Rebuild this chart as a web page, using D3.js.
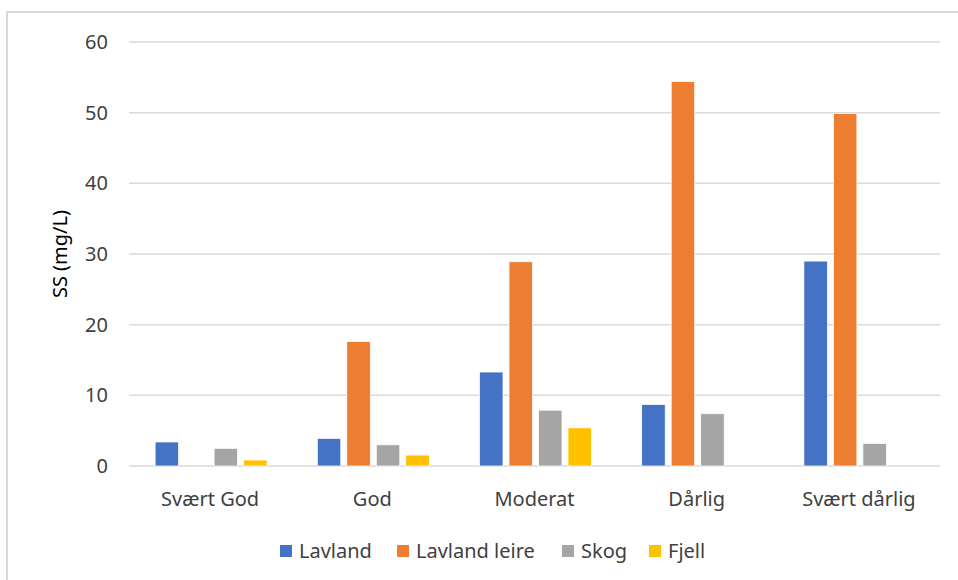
<!DOCTYPE html>
<html>
<head>
<meta charset="utf-8">
<script src="https://cdn.jsdelivr.net/npm/d3@7"></script>
<style>
  html, body { margin: 0; padding: 0; background: #fff; }
  svg { display: block; font-family: "Noto Sans", "Open Sans", sans-serif; }
</style>
</head>
<body>
<svg id="chart" width="958" height="580"></svg>
<script>
// Suspended solids (SS) by ecological status class and river type
const categories = ["Svært God", "God", "Moderat", "Dårlig", "Svært dårlig"];
const seriesNames = ["Lavland", "Lavland leire", "Skog", "Fjell"];
const seriesColors = ["#4472C4", "#ED7D31", "#A5A5A5", "#FFC000"];
const lavland      = [3.4, 3.9, 13.3, 8.7, 29.0];
const lavlandLeire = [null, 17.6, 28.9, 54.4, 49.9];
const skog         = [2.5, 3.0, 7.9, 7.4, 3.2];
const fjell        = [0.85, 1.55, 5.4, null, null];
const yTicks = [0, 10, 20, 30, 40, 50, 60];
const yTitle = "SS (mg/L)";

const seriesValues = [lavland, lavlandLeire, skog, fjell];

const svg = d3.select("#chart");
const W = 958, H = 580;
const plot = { left: 129, right: 940, top: 42, bottom: 466 };
const textColor = "#404040";
const fontSize = 20;

// chart frame (top and left edges)
svg.append("path")
  .attr("d", `M7,${H} L7,12 L${W},12`)
  .attr("fill", "none").attr("stroke", "#d9d9d9").attr("stroke-width", 2);

const x = d3.scaleBand().domain(categories).range([plot.left, plot.right]);
const barStep = 29.5, barWidth = 23.5;
const xInner = d3.scaleBand().domain(seriesNames).range([0, barStep * seriesNames.length]);
const y = d3.scaleLinear().domain([0, 60]).range([plot.bottom, plot.top]);

// gridlines
svg.append("g")
  .selectAll("line")
  .data(yTicks)
  .join("line")
  .attr("x1", plot.left).attr("x2", plot.right)
  .attr("y1", d => y(d)).attr("y2", d => y(d))
  .attr("stroke", "#d9d9d9").attr("stroke-width", 1.5);

// y tick labels
const yAxis = d3.axisLeft(y).tickValues(yTicks).tickSize(0).tickPadding(0);
const gy = svg.append("g").attr("transform", `translate(${plot.left - 21},0)`).call(yAxis);
gy.select(".domain").remove();
gy.selectAll("text")
  .attr("font-size", fontSize).attr("fill", textColor)
  .attr("font-family", "'Noto Sans', 'Open Sans', sans-serif");

// y title
svg.append("text")
  .attr("transform", `translate(67,${(plot.top + plot.bottom) / 2}) rotate(-90)`)
  .attr("text-anchor", "middle")
  .attr("font-size", fontSize).attr("fill", "#000")
  .text(yTitle);

// bars
const groupWidth = barStep * (seriesNames.length - 1) + barWidth;
const groups = svg.append("g")
  .selectAll("g")
  .data(categories)
  .join("g")
  .attr("transform", d => `translate(${x(d) + x.bandwidth() / 2 - groupWidth / 2 + 1},0)`);

groups.selectAll("rect")
  .data((c, ci) => seriesNames.map((s, si) => ({ s, si, v: seriesValues[si][ci] })).filter(d => d.v != null))
  .join("rect")
  .attr("x", d => xInner(d.s))
  .attr("width", barWidth)
  .attr("y", d => y(d.v))
  .attr("height", d => y(0) - y(d.v))
  .attr("fill", d => seriesColors[d.si])
  .attr("stroke", "#fff").attr("stroke-width", 0.75);

// category labels
const xAxis = d3.axisBottom(x).tickSize(0).tickPadding(0);
const gx = svg.append("g").attr("transform", `translate(0,${plot.bottom + 40})`).call(xAxis);
gx.select(".domain").remove();
gx.selectAll("text")
  .attr("dy", 0)
  .attr("font-size", fontSize).attr("fill", textColor)
  .attr("font-family", "'Noto Sans', 'Open Sans', sans-serif");

// legend
const legendX = [280, 397, 562, 649];
const legend = svg.append("g")
  .selectAll("g")
  .data(seriesNames)
  .join("g")
  .attr("transform", (d, i) => `translate(${legendX[i]},551)`);
legend.append("rect")
  .attr("x", 0).attr("y", -6).attr("width", 12).attr("height", 12)
  .attr("fill", (d, i) => seriesColors[i]);
legend.append("text")
  .attr("x", 19).attr("y", 6.5)
  .attr("font-size", fontSize).attr("fill", textColor)
  .text(d => d);
</script>
</body>
</html>
